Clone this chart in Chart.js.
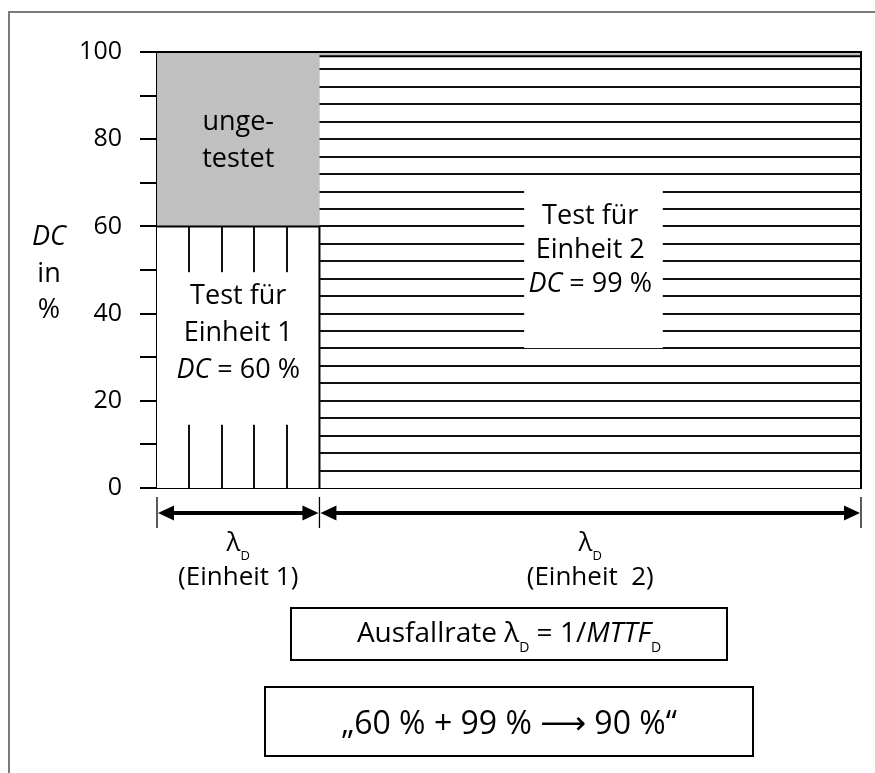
<!DOCTYPE html>
<html><head><meta charset="utf-8">
<script src="https://cdn.jsdelivr.net/npm/chart.js@4/dist/chart.umd.min.js"></script>
<style>html,body{margin:0;padding:0;background:#fff;}#wrap{position:relative;width:875px;height:773px;}canvas{display:block;}</style>
</head><body><div id="wrap"><canvas id="c" width="875" height="773"></canvas></div>
<script>
// ---- data ----
const units = ['Einheit 1', 'Einheit  2'];
const lambdaD = [3, 10];           // relative Ausfallrate λD je Einheit
const dcTested = [60, 99];         // DC je Einheit in %
const dcMax = 100;
const yTickStep = 10;
const yLabelStep = 20;
const untestedLabel = ['unge-', 'testet'];
const testLabels = [
  [[['Test für','']], [['Einheit 1','']], [['DC','i'],[' = 60 %','']]],
  [[['Test für','']], [['Einheit 2','']], [['DC','i'],[' = 99 %','']]]
];
const formulaBox = [['Ausfallrate λ',''],['D','s'],[' = 1/',''],['MTTF','i'],['D','s']];
const resultBox = [['„60 % + 99 % ',''],['⟶','a'],[' 90 %“','']];

const FONT = "'Open Sans', 'Noto Sans', sans-serif";
const starts = lambdaD.map((v, i) => lambdaD.slice(0, i).reduce((a, b) => a + b, 0));
const total = lambdaD.reduce((a, b) => a + b, 0);

function sizeOf(size, st) { return st === 's' ? Math.round(size * 0.5) : size; }
function fontStr(size, st) {
  if (st === 'a') return size + "px 'DejaVu Sans', sans-serif";
  return (st === 'i' ? 'italic ' : '') + size + 'px ' + FONT;
}
function runsWidth(ctx, runs, size) {
  let w = 0;
  for (const [t, st] of runs) { ctx.font = fontStr(sizeOf(size, st), st); w += ctx.measureText(t).width; }
  return w;
}
function drawRuns(ctx, runs, cx, base, size) {
  let x = cx - runsWidth(ctx, runs, size) / 2;
  ctx.textAlign = 'left'; ctx.textBaseline = 'alphabetic'; ctx.fillStyle = '#000';
  for (const [t, st] of runs) {
    ctx.font = fontStr(sizeOf(size, st), st);
    ctx.fillText(t, x, st === 's' ? base + size * 0.36 : base);
    x += ctx.measureText(t).width;
  }
}

const decor = {
  id: 'decor',
  beforeDraw(chart) {
    const ctx = chart.ctx; ctx.save(); ctx.fillStyle = '#fff'; ctx.fillRect(0, 0, chart.width, chart.height); ctx.restore();
  },
  afterDatasetsDraw(chart) {
    const ctx = chart.ctx, xs = chart.scales.x, ys = chart.scales.y;
    ctx.save();
    ctx.strokeStyle = '#111'; ctx.lineWidth = 2;
    // vertical hatch unit 1
    const x0 = xs.getPixelForValue(starts[0]), x1 = xs.getPixelForValue(starts[0] + lambdaD[0]);
    for (let k = 1; k < 5; k++) {
      const x = Math.round(xs.getPixelForValue(starts[0] + lambdaD[0] * k / 5));
      ctx.beginPath(); ctx.moveTo(x, ys.getPixelForValue(0)); ctx.lineTo(x, ys.getPixelForValue(dcTested[0])); ctx.stroke();
    }
    // horizontal hatch unit 2
    const u0 = xs.getPixelForValue(starts[1]), u1 = xs.getPixelForValue(starts[1] + lambdaD[1]);
    for (let v = 4; v < dcTested[1]; v += 4) {
      const y = Math.round(ys.getPixelForValue(v));
      ctx.beginPath(); ctx.moveTo(u0, y); ctx.lineTo(u1, y); ctx.stroke();
    }
    // white gaps for labels
    ctx.fillStyle = '#fff';
    ctx.fillRect(x0 + 2, ys.getPixelForValue(49.5), x1 - x0 - 4, ys.getPixelForValue(14.5) - ys.getPixelForValue(49.5));
    const g0 = xs.getPixelForValue(6.78), g1 = xs.getPixelForValue(9.34);
    ctx.fillRect(g0, ys.getPixelForValue(68.8), g1 - g0, ys.getPixelForValue(32.1) - ys.getPixelForValue(68.8));
    // labels
    const cx0 = (x0 + x1) / 2, cx1 = (u0 + u1) / 2;
    const gy = ys.getPixelForValue((dcTested[0] + dcMax) / 2);
    drawRuns(ctx, [[untestedLabel[0], '']], cx0, gy - 9, 27);
    drawRuns(ctx, [[untestedLabel[1], '']], cx0, gy + 28, 27);
    const t1 = ys.getPixelForValue(36);
    testLabels[0].forEach((r, i) => drawRuns(ctx, r, cx0, t1 - 27 + i * 37, 27));
    const t2 = ys.getPixelForValue(55);
    testLabels[1].forEach((r, i) => drawRuns(ctx, r, cx1, t2 - 24 + i * 34, 27));
    ctx.restore();
  },
  afterDraw(chart) {
    const ctx = chart.ctx, xs = chart.scales.x, ys = chart.scales.y;
    ctx.save();
    // y title
    drawRuns(ctx, [['DC', 'i']], 49, 245, 27);
    drawRuns(ctx, [['in', '']], 49, 282, 27);
    drawRuns(ctx, [['%', '']], 49, 318, 27);
    // dimension lines
    const yb = ys.getPixelForValue(0);
    const ay = yb + 25;
    const bounds = [0].concat(lambdaD.map((v, i) => starts[i] + v)).map(v => xs.getPixelForValue(v));
    ctx.strokeStyle = '#000'; ctx.lineWidth = 1.3;
    bounds.forEach(bx => { ctx.beginPath(); ctx.moveTo(bx, yb + 9); ctx.lineTo(bx, yb + 40); ctx.stroke(); });
    ctx.fillStyle = '#000';
    for (let i = 0; i < units.length; i++) {
      const a = bounds[i], b = bounds[i + 1];
      ctx.lineWidth = 4;
      ctx.beginPath(); ctx.moveTo(a + 12, ay); ctx.lineTo(b - 12, ay); ctx.stroke();
      ctx.beginPath(); ctx.moveTo(a + 1, ay); ctx.lineTo(a + 17, ay - 7.5); ctx.lineTo(a + 17, ay + 7.5); ctx.closePath(); ctx.fill();
      ctx.beginPath(); ctx.moveTo(b - 1, ay); ctx.lineTo(b - 17, ay - 7.5); ctx.lineTo(b - 17, ay + 7.5); ctx.closePath(); ctx.fill();
      const cx = (a + b) / 2;
      drawRuns(ctx, [['λ', ''], ['D', 's']], cx, yb + 63, 26);
      drawRuns(ctx, [['(' + units[i] + ')', '']], cx, yb + 97, 26);
    }
    // boxes
    ctx.strokeStyle = '#000'; ctx.lineWidth = 2;
    ctx.strokeRect(291, 608, 436, 52);
    drawRuns(ctx, formulaBox, 509, 642, 28);
    ctx.strokeRect(265, 687, 488, 69);
    drawRuns(ctx, resultBox, 509, 734, 32);
    // outer frame
    ctx.strokeStyle = '#7a7a7a'; ctx.lineWidth = 2;
    ctx.strokeRect(9, 12, 900, 800);
    ctx.restore();
  }
};

const rect = (x0, x1, y) => [{x: x0, y: y}, {x: x1, y: y}, {x: x1, y: 0}];
const datasets = units.map((u, i) => ({
  label: 'Test ' + u,
  data: rect(starts[i], starts[i] + lambdaD[i], dcTested[i]),
  fill: 'origin', backgroundColor: '#fff', borderColor: '#000', borderWidth: 2,
  pointRadius: 0, tension: 0, clip: 4, borderJoinStyle: 'miter'
}));
datasets.push({
  label: 'ungetestet',
  data: rect(0, total, dcMax),
  fill: 'origin', backgroundColor: '#c0c0c0', borderColor: '#000', borderWidth: 2,
  pointRadius: 0, tension: 0, clip: 4, borderJoinStyle: 'miter'
});

new Chart(document.getElementById('c'), {
  type: 'line',
  data: { datasets },
  options: {
    responsive: false, animation: false, devicePixelRatio: 1,
    layout: { padding: { top: 52, right: 14, bottom: 285, left: 0 } },
    plugins: { legend: { display: false }, tooltip: { enabled: false } },
    scales: {
      x: { type: 'linear', min: 0, max: total, z: 1,
        ticks: { display: false }, grid: { display: false, drawTicks: false },
        border: { display: true, color: '#000', width: 2 },
        afterFit(s) { s.height = 0; } },
      y: { min: 0, max: dcMax, z: 1,
        ticks: { stepSize: yTickStep, autoSkip: false, padding: 18, color: '#000',
          font: { family: FONT, size: 25 },
          callback: v => (v % yLabelStep === 0 ? String(v) : '') },
        grid: { drawOnChartArea: false, tickLength: 17, color: '#000', lineWidth: 2 },
        border: { color: '#000', width: 2 },
        afterFit(s) { s.width = 157; } }
    }
  },
  plugins: [decor]
});
</script></body></html>
